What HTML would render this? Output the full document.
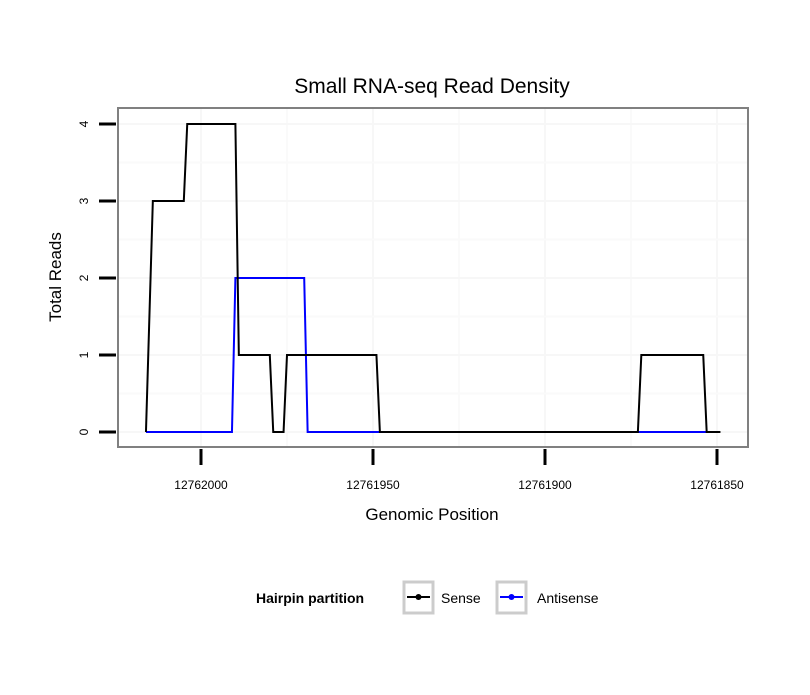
<!DOCTYPE html>
<html><head><meta charset="utf-8"><style>
body{margin:0;background:#fff;font-family:"Liberation Sans",sans-serif}
</style></head><body>
<svg width="810" height="690" xmlns="http://www.w3.org/2000/svg" font-family="Liberation Sans, sans-serif">
<rect width="810" height="690" fill="#fff"/>
<text x="432" y="93" font-size="21" text-anchor="middle">Small RNA-seq Read Density</text>
<g id="grid"></g>
<g id="plot"></g>
<rect x="118" y="108" width="630" height="339" fill="none" stroke="#808080" stroke-width="2"/>
<g id="axes"></g>
<text x="432" y="520" font-size="17" text-anchor="middle">Genomic Position</text>
<text transform="translate(61,277) rotate(-90)" font-size="17" text-anchor="middle">Total Reads</text>
<g>
<text x="256" y="603" font-size="14" font-weight="bold">Hairpin partition</text>
<g>
<rect x="404" y="582" width="29" height="31" fill="#fff" stroke="#ccc" stroke-width="3"/>
<line x1="407" y1="597" x2="430" y2="597" stroke="#000" stroke-width="2"/><circle cx="418.5" cy="597" r="3" fill="#000"/>
<text x="441" y="603" font-size="14">Sense</text></g>
<g>
<rect x="497" y="582" width="29" height="31" fill="#fff" stroke="#ccc" stroke-width="3"/>
<line x1="500" y1="597" x2="523" y2="597" stroke="#00f" stroke-width="2"/><circle cx="511.5" cy="597" r="3" fill="#00f"/>
<text x="537" y="603" font-size="14">Antisense</text></g>
</g>
</svg>
<script>
const senseX=[12762016,12762014,12762005,12762004,12761990,12761989,12761980,12761979,12761976,12761975,12761949,12761948,12761873,12761872,12761854,12761853,12761849];
const senseY=[0,3,3,4,4,1,1,0,0,1,1,0,0,1,1,0,0];
const antiX=[12762016,12761991,12761990,12761970,12761969,12761853];
const antiY=[0,0,2,2,0,0];
const xTicks=[12762000,12761950,12761900,12761850];
const yTicks=[0,1,2,3,4];
const NS="http://www.w3.org/2000/svg";
function sx(p){return 201+(12762000-p)*3.44;}
function sy(v){return 432-v*77;}
function mk(tag,attrs,parent){const e=document.createElementNS(NS,tag);for(const k in attrs)e.setAttribute(k,attrs[k]);parent.appendChild(e);return e;}
const grid=document.getElementById('grid'),plot=document.getElementById('plot'),axes=document.getElementById('axes');
mk('rect',{x:118,y:108,width:630,height:339,fill:'#fff'},grid);
for(let i=0;i<xTicks.length;i++){
  const x=sx(xTicks[i]);
  const g=mk('line',{x1:x,x2:x,y1:108,y2:447,stroke:'#f7f7f7','stroke-width':2},grid);
  
  
  if(i<xTicks.length-1){const m=sx((xTicks[i]+xTicks[i+1])/2);mk('line',{x1:m,x2:m,y1:108,y2:447,stroke:'#fafafa','stroke-width':2},grid);}
  const t=mk('line',{x1:x,x2:x,y1:449,y2:465,stroke:'#000','stroke-width':3},axes);
  
  
  const l=mk('text',{x:x,y:489,'font-size':12,'text-anchor':'middle'},axes);
  l.textContent=xTicks[i];
  
  
}
for(let i=0;i<yTicks.length;i++){
  const y=sy(yTicks[i]);
  const g=mk('line',{x1:118,x2:748,y1:y,y2:y,stroke:'#f7f7f7','stroke-width':2},grid);
  
  
  if(i<yTicks.length-1){const m=sy((yTicks[i]+yTicks[i+1])/2);mk('line',{x1:118,x2:748,y1:m,y2:m,stroke:'#fafafa','stroke-width':2},grid);}
  const t=mk('line',{x1:99,x2:116,y1:y,y2:y,stroke:'#000','stroke-width':3},axes);
  
  
  const l=mk('text',{transform:`translate(88,${y}) rotate(-90)`,'font-size':12,'text-anchor':'middle'},axes);
  l.textContent=yTicks[i];
  
  
}
function path(xs,ys){return xs.map((p,i)=>(i?'L':'M')+sx(p)+','+sy(ys[i])).join(' ');}
const a=mk('path',{d:path(antiX,antiY),fill:'none',stroke:'#00f','stroke-width':2},plot);


const s=mk('path',{d:path(senseX,senseY),fill:'none',stroke:'#000','stroke-width':2},plot);


</script>
</body></html>
